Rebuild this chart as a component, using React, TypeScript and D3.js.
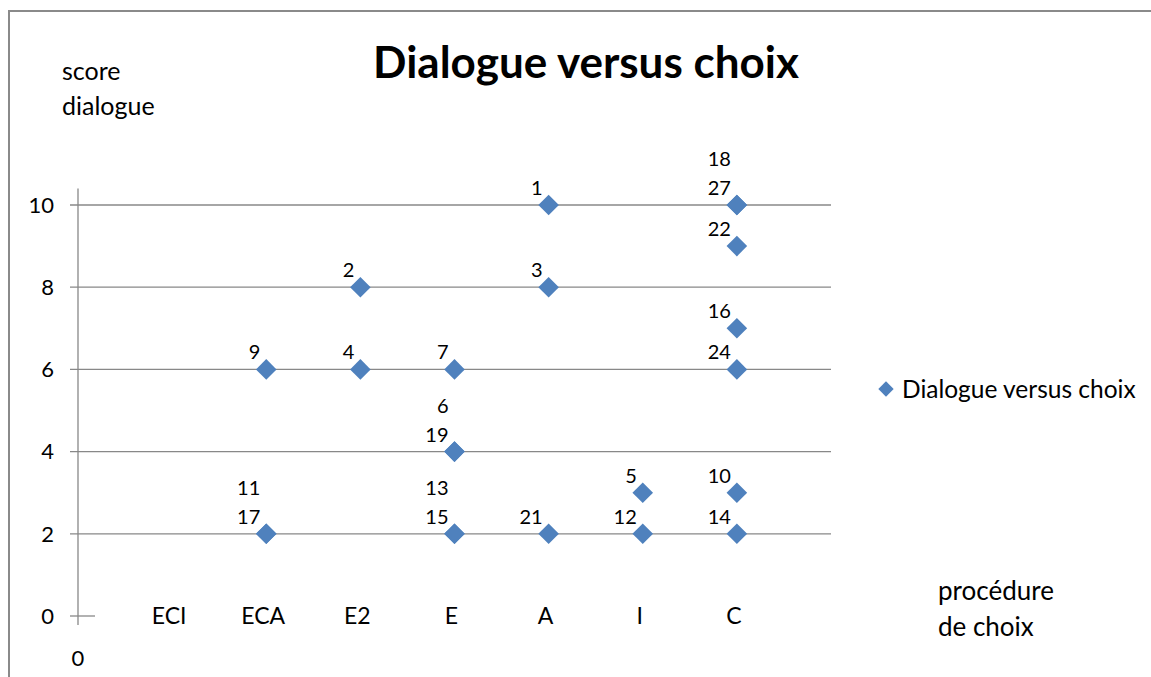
import React from "react";
import * as d3 from "d3";

const categories = ["ECI", "ECA", "E2", "E", "A", "I", "C"];
const yTicks = [0, 2, 4, 6, 8, 10];
const pointIds = [1, 2, 3, 4, 5, 6, 7, 9, 10, 11, 12, 13, 14, 15, 16, 17, 18, 19, 21, 22, 24, 27];
const pointCategory = ["A", "E2", "A", "E2", "I", "E", "E", "ECA", "C", "ECA", "I", "E", "C", "E", "C", "ECA", "C", "E", "A", "C", "C", "C"];
const pointScore = [10, 8, 8, 6, 3, 4, 6, 6, 3, 2, 2, 2, 2, 2, 7, 2, 10, 4, 2, 9, 6, 10];
const seriesName = "Dialogue versus choix";
const titleText = "Dialogue versus choix";
const yAxisTitle = ["score", "dialogue"];
const xAxisTitle = ["procédure", "de choix"];

const W = 1151;
const H = 677;
const FONT = "Lato, 'Open Sans', sans-serif";
const BLUE = "#4F81BD";
const GRID = "#888888";

export default function App() {
  const x = d3.scaleLinear().domain([0, 8]).range([78, 831]);
  const y = d3.scaleLinear().domain([0, 10]).range([616, 205]);
  const diamond = d3.symbol().type(d3.symbolDiamond2).size(270)();
  const legendDiamond = d3.symbol().type(d3.symbolDiamond2).size(150)();

  // stacking: higher id closest to point
  const pts = pointIds.map((id, i) => ({
    id,
    cx: x(categories.indexOf(pointCategory[i]) + 1),
    cy: y(pointScore[i]),
    cat: pointCategory[i],
    score: pointScore[i],
  }));
  const labels = pts.map((p) => {
    const stack = pts.filter((q) => q.cat === p.cat && q.score === p.score && q.id > p.id).length;
    return { ...p, stack };
  });

  return (
    <div style={{ position: "fixed", left: 0, top: 0 }}>
      <svg width={W} height={H} style={{ display: "block", background: "#fff" }} fontFamily={FONT}>
        <rect x={9} y={11} width={1300} height={1000} fill="#fff" stroke="#8a8a8a" strokeWidth={2} />
        <text x={586} y={78} textAnchor="middle" fontSize={44} fontWeight="bold" fill="#000">
          {titleText}
        </text>
        {yAxisTitle.map((t, i) => (
          <text key={t} x={62} y={80 + i * 35} fontSize={25} fill="#000">
            {t}
          </text>
        ))}
        {xAxisTitle.map((t, i) => (
          <text key={t} x={938} y={600 + i * 36} fontSize={26} fill="#000">
            {t}
          </text>
        ))}
        {yTicks.filter((v) => v > 0).map((v) => (
          <line key={"g" + v} x1={x(0) - 8} x2={x(8)} y1={y(v)} y2={y(v)} stroke={GRID} strokeWidth={1.3} />
        ))}
        <line x1={x(0)} x2={x(0)} y1={y(10.4)} y2={y(0) + 9} stroke={GRID} strokeWidth={1.3} />
        <line x1={x(0) - 8} x2={x(0) + 17} y1={y(0)} y2={y(0)} stroke={GRID} strokeWidth={1.3} />
        {yTicks.map((v) => (
          <text key={"t" + v} x={54} y={y(v)} dy="0.35em" textAnchor="end" fontSize={22} fill="#000">
            {v}
          </text>
        ))}
        <text x={x(0)} y={y(0) + 42} dy="0.35em" textAnchor="middle" fontSize={22} fill="#000">
          0
        </text>
        {categories.map((c, i) => (
          <text key={c} x={x(i + 1) - 3} y={y(0)} dy="0.35em" textAnchor="middle" fontSize={23} fill="#000">
            {c}
          </text>
        ))}
        {pts.map((p) => (
          <path key={"p" + p.id} d={diamond ?? ""} transform={`translate(${p.cx},${p.cy})`} fill={BLUE} />
        ))}
        {labels.map((l) => (
          <text
            key={"l" + l.id}
            x={l.cx - 6}
            y={l.cy - 10 - l.stack * 29}
            textAnchor="end"
            fontSize={20}
            fill="#000"
          >
            {l.id}
          </text>
        ))}
        <path d={legendDiamond ?? ""} transform="translate(886,389)" fill={BLUE} />
        <text x={902} y={389} dy="0.35em" fontSize={24.5} fill="#000">
          {seriesName}
        </text>
      </svg>
    </div>
  );
}
